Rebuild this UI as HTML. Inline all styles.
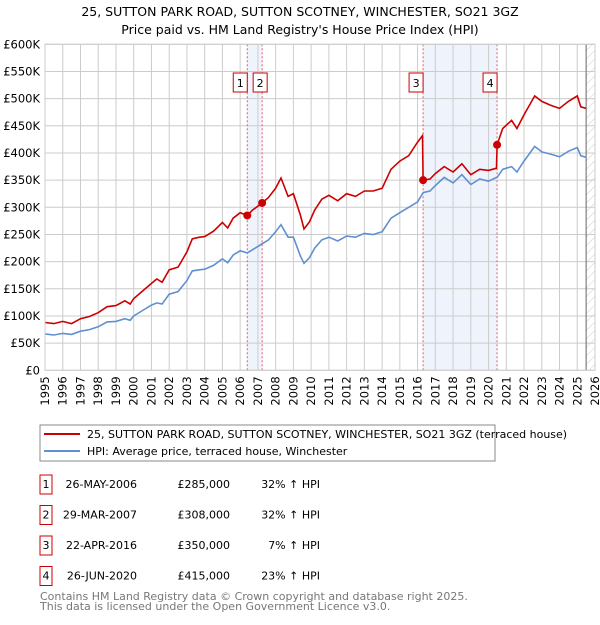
<!DOCTYPE html>
<html><head><meta charset="utf-8"><style>
body{margin:0;background:#fff;font-family:"Liberation Sans","DejaVu Sans",sans-serif}
svg text{font-family:"DejaVu Sans","Liberation Sans",sans-serif}
</style></head><body>
<svg id="c" width="600" height="620" xmlns="http://www.w3.org/2000/svg">
<defs><pattern id="hatch" width="6" height="6" patternUnits="userSpaceOnUse" patternTransform="rotate(45)"><line x1="0" y1="0" x2="0" y2="6" stroke="#ccc" stroke-width="1"/></pattern></defs>
<text x="300" y="16" text-anchor="middle" font-size="12.5">25, SUTTON PARK ROAD, SUTTON SCOTNEY, WINCHESTER, SO21 3GZ</text>
<text x="300" y="34" text-anchor="middle" font-size="12.5">Price paid vs. HM Land Registry's House Price Index (HPI)</text>
<g id="plot"></g>
<rect x="40" y="425" width="455" height="36" fill="#fff" stroke="#888"/>
<line x1="44" y1="434" x2="80" y2="434" stroke="#cc0000" stroke-width="2"/>
<text x="87" y="438" font-size="11">25, SUTTON PARK ROAD, SUTTON SCOTNEY, WINCHESTER, SO21 3GZ (terraced house)</text>
<line x1="44" y1="451" x2="80" y2="451" stroke="#6090d0" stroke-width="2"/>
<text x="87" y="455" font-size="11">HPI: Average price, terraced house, Winchester</text>
<g id="table" font-size="11"></g>
<text x="40" y="600" font-size="11" fill="#777">Contains HM Land Registry data © Crown copyright and database right 2025.</text>
<text x="40" y="610" font-size="11" fill="#777">This data is licensed under the Open Government Licence v3.0.</text>
</svg>
<script>
const dates=[1995.0,1995.5,1996.0,1996.5,1997.0,1997.5,1998.0,1998.5,1999.0,1999.5,1999.8,2000.0,2000.5,2001.0,2001.3,2001.6,2002.0,2002.5,2003.0,2003.3,2003.7,2004.0,2004.5,2005.0,2005.3,2005.6,2006.0,2006.4,2006.7,2007.0,2007.24,2007.6,2008.0,2008.3,2008.7,2009.0,2009.4,2009.6,2009.9,2010.2,2010.6,2011.0,2011.5,2012.0,2012.5,2013.0,2013.5,2014.0,2014.5,2015.0,2015.5,2016.0,2016.28,2016.31,2016.7,2017.0,2017.5,2018.0,2018.5,2019.0,2019.5,2020.0,2020.45,2020.48,2020.8,2021.3,2021.6,2022.0,2022.6,2023.0,2023.5,2024.0,2024.5,2025.0,2025.2,2025.5];
const hpi=[67,65,68,66,72,75,80,89,90,95,92,100,110,120,124,122,140,145,165,183,185,186,193,205,198,212,220,216,222,228,233,240,255,268,245,245,210,197,207,225,240,245,238,247,245,252,250,255,280,290,300,310,325,327,330,340,355,345,360,342,352,348,355,355,370,375,365,385,412,402,398,393,403,410,395,392];
const price=[88,86,90,86,95,99,106,117,119,128,122,132,146,160,168,162,185,190,218,242,245,246,256,272,262,280,290,285,295,302,308,318,335,354,320,325,285,260,273,295,315,322,312,325,320,330,330,335,370,385,395,420,432,350,352,362,375,365,380,360,370,368,372,415,445,460,445,470,505,495,488,482,495,505,485,482];
const saleLabels=["1","2","3","4"];
const saleDates=[2006.4,2007.24,2016.31,2020.48];
const salePrices=[285,308,350,415];
const saleDateText=["26-MAY-2006","29-MAR-2007","22-APR-2016","26-JUN-2020"];
const salePriceText=["£285,000","£308,000","£350,000","£415,000"];
const saleHpiText=["32% ↑ HPI","32% ↑ HPI","7% ↑ HPI","23% ↑ HPI"];
const yTicks=[0,50,100,150,200,250,300,350,400,450,500,550,600];
const xTicks=[];for(let y=1995;y<=2026;y++)xTicks.push(y);
const X0=45,X1=595,Y0=370.3,Y1=44.3;
const xs=d=>X0+(d-1995)/31*(X1-X0);
const ys=v=>Y0-v/600*(Y0-Y1);
const NS="http://www.w3.org/2000/svg";
const g=document.getElementById('plot');
function mk(t,a,p){const e=document.createElementNS(NS,t);for(const k in a)e.setAttribute(k,a[k]);(p||g).appendChild(e);return e;}
// shading
let e=mk('rect',{x:xs(saleDates[0]),y:Y1,width:xs(saleDates[1])-xs(saleDates[0]),height:Y0-Y1,fill:'#eef3fc'});


e=mk('rect',{x:xs(saleDates[2]),y:Y1,width:xs(saleDates[3])-xs(saleDates[2]),height:Y0-Y1,fill:'#eef3fc'});


e=mk('rect',{x:xs(2025.5),y:Y1,width:X1-xs(2025.5),height:Y0-Y1,fill:'url(#hatch)'});


// grid
yTicks.forEach(v=>{
 const l=mk('line',{x1:X0,x2:X1,y1:ys(v),y2:ys(v),stroke:'#ccc'});
 
 
 const t=mk('text',{x:X0-5,y:ys(v)+4,'text-anchor':'end','font-size':'11.5'});
 t.textContent=v===0?'£0':'£'+v+'K';
 
 
});
xTicks.forEach(y=>{
 const l=mk('line',{x1:xs(y),x2:xs(y),y1:Y1,y2:Y0,stroke:'#ccc'});
 
 
 const t=mk('text',{x:0,y:0,'text-anchor':'end','font-size':'11.5',transform:`translate(${xs(y)+4},${Y0+6}) rotate(-90)`});
 t.textContent=y;
 
 
});
e=mk('line',{x1:xs(2025.5),x2:xs(2025.5),y1:Y1,y2:Y0,stroke:'#666'});


// sale lines
saleDates.forEach((d,i)=>{
 const l=mk('line',{x1:xs(d),x2:xs(d),y1:Y1,y2:Y0,stroke:'#e06060','stroke-dasharray':'2,2'});
 
 
});
// series
const path=arr=>arr.map((v,i)=>(i?'L':'M')+xs(dates[i]).toFixed(1)+','+ys(v).toFixed(1)).join('');
e=mk('path',{d:path(hpi),fill:'none',stroke:'#6090d0','stroke-width':1.6});


e=mk('path',{d:path(price),fill:'none',stroke:'#cc0000','stroke-width':1.6});


saleDates.forEach((d,i)=>{
 const c=mk('circle',{cx:xs(d),cy:ys(salePrices[i]),r:4,fill:'#cc0000'});
 
 
 let bx=xs(d)-14;
 if(i===1)bx=xs(d)-9;
 const r=mk('rect',{x:bx,y:73,width:14,height:19,fill:'#fff',stroke:'#cc0000'});
 
 
 const t=mk('text',{x:bx+7,y:87,'text-anchor':'middle','font-size':'11'});
 t.textContent=saleLabels[i];
 
 
});
e=mk('rect',{x:X0,y:Y1,width:X1-X0,height:Y0-Y1,fill:'none',stroke:'#ccc'});


// table
const tb=document.getElementById('table');
saleLabels.forEach((s,i)=>{
 const cy=484+i*30.5;
 const r=mk('rect',{x:40,y:cy-9,width:12,height:19,fill:'#fff',stroke:'#cc0000'},tb);
 
 
 const cells=[[s,46,'middle'],[saleDateText[i],137,'end'],[salePriceText[i],230,'end'],[saleHpiText[i],320,'end']];
 cells.forEach((c,j)=>{
  const t=mk('text',{x:c[1],y:cy+4,'text-anchor':c[2]},tb);
  t.textContent=c[0];
  
  
 });
});
</script>
</body></html>
